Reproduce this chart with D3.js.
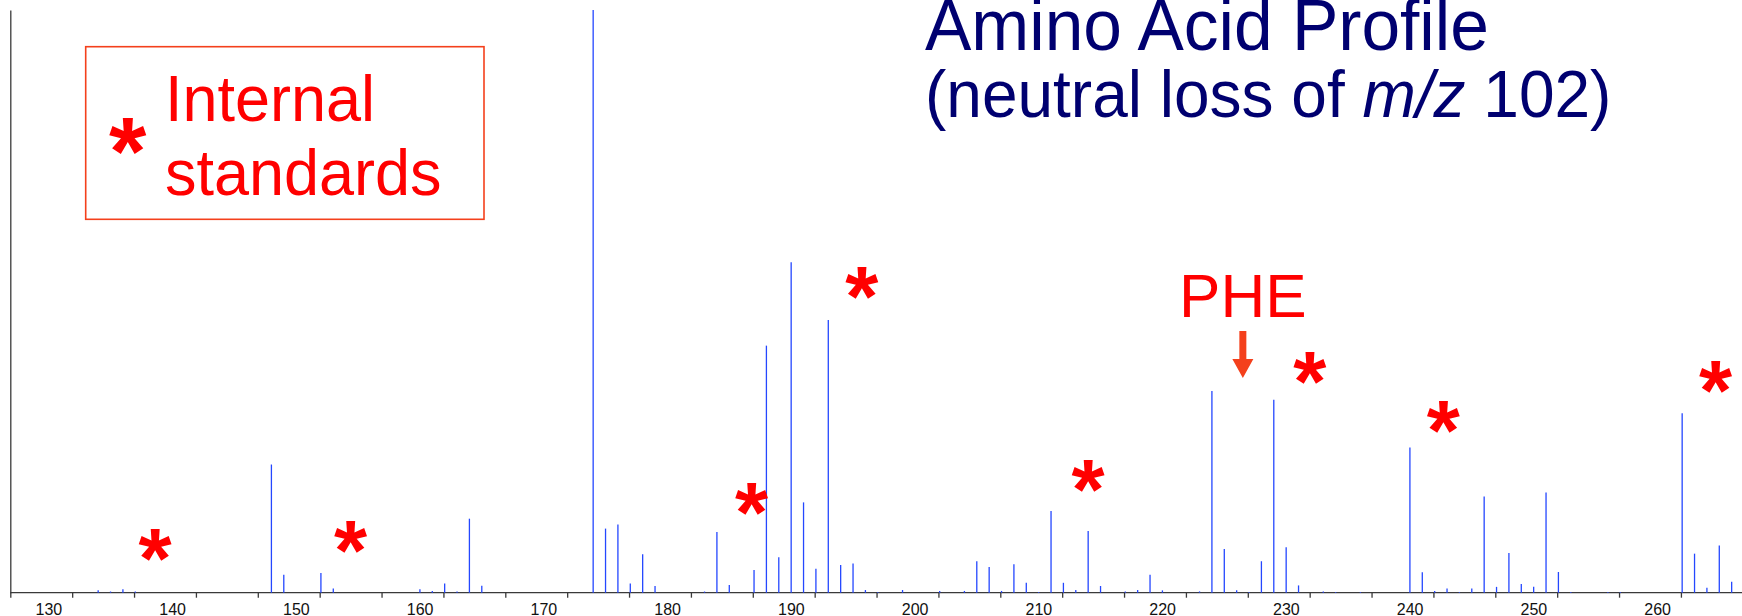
<!DOCTYPE html>
<html>
<head>
<meta charset="utf-8">
<script src="https://cdn.jsdelivr.net/npm/d3@7"></script>
<style>
  html, body { margin: 0; padding: 0; background: #ffffff; }
  svg { display: block; font-family: "Liberation Sans", Arial, sans-serif; }
</style>
</head>
<body>
<svg id="chart" width="1742" height="616"></svg>
<script>
// Neutral-loss (m/z 102) scan: centroid m/z and relative intensity (%)
const peakMz = [
  134.1, 135.1, 136.1, 137.1, 148.1, 149.1, 152.1, 153.1,
  160.1, 161.1, 162.1, 163.1, 164.1, 165.1,
  174.1, 175.1, 176.1, 177.1, 178.1, 179.1,
  183.1, 184.1, 185.1, 187.1, 188.1, 189.1, 190.1, 191.1, 192.1, 193.1, 194.1, 195.1, 196.1, 197.1, 199.1,
  202.1, 204.1, 205.1, 206.1, 207.1, 208.1, 209.1, 210.1,
  211.1, 212.1, 213.1, 214.1, 215.1, 217.1, 218.1, 219.1, 220.1,
  223.1, 224.1, 225.1, 226.1, 227.1, 228.1, 229.1, 230.1, 231.1, 233.1, 234.1, 236.1,
  240.1, 241.1, 242.1, 243.1, 244.1, 245.1, 246.1, 247.1, 248.1, 249.1, 250.1, 251.1, 252.1, 253.1, 256.1, 257.1,
  262.1, 263.1, 264.1, 265.1, 266.1
];
const peakIntensity = [
  0.4, 0.2, 0.6, 0.2, 22.0, 3.1, 3.4, 0.7,
  0.6, 0.3, 1.6, 0.2, 12.7, 1.2,
  100, 11.0, 11.7, 1.6, 6.6, 1.15,
  0.2, 10.4, 1.3, 3.9, 42.4, 6.1, 56.7, 15.5, 4.1, 46.8, 4.75, 5.0, 0.46, 0.12, 0.46,
  0.3, 0.3, 5.4, 4.4, 0.3, 4.9, 1.7, 0.12,
  14.0, 1.7, 0.46, 10.6, 1.15, 0.22, 0.46, 3.1, 0.4,
  0.22, 34.6, 7.5, 0.4, 0.12, 5.4, 33.1, 7.8, 1.25, 0.22, 0.12, 0.12,
  24.9, 3.5, 0.3, 0.7, 0.12, 0.7, 16.5, 1.0, 6.8, 1.5, 1.0, 17.2, 3.55, 0.12, 0.12, 0.12,
  30.8, 6.7, 0.86, 8.1, 1.9
];

// Axis ticks and labels
const tickValues = d3.range(127, 263, 5);
const tickLabels = d3.range(130, 261, 10);

// Internal-standard markers (m/z, intensity position)
const standardMz    = [138.7, 154.5, 186.9, 195.8, 214.1, 232.0, 242.8, 264.8];
const standardLevel = [7.7, 9.0, 15.5, 52.7, 19.5, 38.0, 29.6, 36.5];

// Phenylalanine call-out
const pheLabel = "PHE";
const pheMz = 226.6;
const pheLevel = [44.9, 36.85];   // arrow tail, arrow tip

const titleLines = ["Amino Acid Profile", "(neutral loss of ", "m/z", " 102)"];
const legendLines = ["Internal", "standards"];

const svg = d3.select("#chart");
const W = 1742;
const STAR_CENTER = 0.47;   // asterisk glyph centre, in em above the baseline

const x = d3.scaleLinear().domain([127, 267]).range([10.3, 1742.8]);
const y = d3.scaleLinear().domain([0, 100]).range([592.7, 10]);

// Axes
const xAxis = d3.axisBottom(x)
  .tickValues(tickValues)
  .tickSize(5)
  .tickFormat("");
const gx = svg.append("g")
  .attr("transform", `translate(0,${y(0)})`)
  .call(xAxis);
gx.select(".domain").attr("stroke", "#3a3a3a").attr("stroke-width", 1.3)
  .attr("d", `M${x(127)},0H${W}`);
gx.selectAll(".tick line").attr("stroke", "#3a3a3a").attr("stroke-width", 1.3);

svg.append("g").selectAll("text")
  .data(tickLabels)
  .join("text")
  .attr("x", d => x(d) + 1.5)
  .attr("y", 614.5)
  .attr("text-anchor", "middle")
  .attr("font-size", 16)
  .attr("fill", "#111")
  .text(d => d);

const yAxis = d3.axisLeft(y).tickValues([]).tickSize(0);
const gy = svg.append("g")
  .attr("transform", `translate(${x(127)},0)`)
  .call(yAxis);
gy.select(".domain").attr("stroke", "#3a3a3a").attr("stroke-width", 1.3);

// Spectrum sticks
svg.append("g").selectAll("line")
  .data(d3.zip(peakMz, peakIntensity))
  .join("line")
  .attr("x1", d => x(d[0]))
  .attr("x2", d => x(d[0]))
  .attr("y1", y(0))
  .attr("y2", d => y(d[1]))
  .attr("stroke", "#2447ff")
  .attr("stroke-width", 1.3);

// Title (slightly tall lettering)
const title = svg.append("g").attr("fill", "#000070");
title.append("text")
  .attr("transform", "translate(925,50) scale(1,1.04)")
  .attr("font-size", 69.5)
  .text(titleLines[0]);
const sub = title.append("text")
  .attr("transform", "translate(925,117) scale(1,1.05)")
  .attr("font-size", 64);
sub.append("tspan").text(titleLines[1]);
sub.append("tspan").attr("font-style", "italic").text(titleLines[2]);
sub.append("tspan").text(titleLines[3]);

// Legend box
const legend = svg.append("g");
legend.append("rect")
  .attr("x", 85.7).attr("y", 46.7)
  .attr("width", 398.3).attr("height", 172.6)
  .attr("fill", "none")
  .attr("stroke", "#f4401c")
  .attr("stroke-width", 1.6);
legend.append("text")
  .attr("x", 127.8).attr("y", 139 + STAR_CENTER * 96)
  .attr("text-anchor", "middle")
  .attr("font-size", 96).attr("font-weight", "bold")
  .attr("fill", "#ff0000")
  .text("*");
legend.selectAll("text.lg")
  .data(legendLines)
  .join("text")
  .attr("class", "lg")
  .attr("transform", (d, i) => `translate(165,${120.7 + i * 74}) scale(1,1.03)`)
  .attr("font-size", 63)
  .attr("fill", "#ff0000")
  .text(d => d);

// Internal-standard asterisks
const starSize = 85;
svg.append("g").selectAll("text")
  .data(d3.zip(standardMz, standardLevel))
  .join("text")
  .attr("x", d => x(d[0]))
  .attr("y", d => y(d[1]) + STAR_CENTER * starSize)
  .attr("text-anchor", "middle")
  .attr("font-size", starSize).attr("font-weight", "bold")
  .attr("fill", "#ff0000")
  .text("*");

// PHE label and arrow
svg.append("text")
  .attr("x", x(pheMz))
  .attr("y", 316.6)
  .attr("text-anchor", "middle")
  .attr("font-size", 62)
  .attr("fill", "#ff0000")
  .text(pheLabel);

const ax = x(pheMz), yTail = y(pheLevel[0]), yTip = y(pheLevel[1]);
svg.append("path")
  .attr("d", `M${ax - 3.5},${yTail} H${ax + 3.5} V${yTip - 19} H${ax + 10.5} L${ax},${yTip} L${ax - 10.5},${yTip - 19} H${ax - 3.5} Z`)
  .attr("fill", "#f4401c");
</script>
</body>
</html>
